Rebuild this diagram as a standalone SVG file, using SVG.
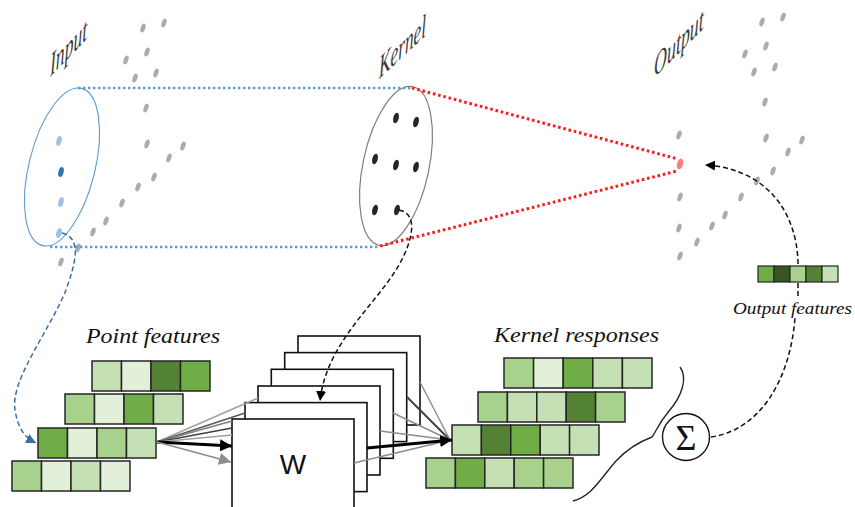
<svg xmlns="http://www.w3.org/2000/svg" xmlns:xlink="http://www.w3.org/1999/xlink" width="855" height="507" viewBox="0 0 855 507">
<style>
.lbl{font-family:"Liberation Serif",serif;font-style:italic;fill:#3a3a3a}
.cap{font-family:"Liberation Serif",serif;font-style:italic;fill:#111}
.cell{stroke:#262626;stroke-width:1.5}
.c1{fill:#e2f0d9}.c2{fill:#c5e0b4}.c3{fill:#a9d18e}.c4{fill:#70ad47}.c5{fill:#548235}.c6{fill:#375623}
.gd{fill:#acacac}
.box{fill:#fff;stroke:#111;stroke-width:1.6}
.bdot{stroke:#5b9bd5;stroke-width:2.5;stroke-dasharray:2.4 2.6;fill:none}
.rdot{stroke:#ff1a1a;stroke-width:3;stroke-dasharray:2.6 2.8;fill:none}
.dash{stroke:#111;stroke-width:1.5;stroke-dasharray:5 3;fill:none}
</style>
<defs>
<ellipse id="gd" class="gd" rx="2.3" ry="4.6" transform="rotate(20)"/>
<g id="cloud">
<use href="#gd" x="143" y="28"/><use href="#gd" x="164" y="23"/><use href="#gd" x="126" y="60"/><use href="#gd" x="147" y="52"/>
<use href="#gd" x="135" y="78"/><use href="#gd" x="156" y="73"/><use href="#gd" x="146" y="108"/><use href="#gd" x="147" y="144"/>
<use href="#gd" x="183" y="146"/><use href="#gd" x="169" y="158"/><use href="#gd" x="154" y="177"/><use href="#gd" x="138" y="187"/>
<use href="#gd" x="122" y="203"/><use href="#gd" x="106" y="221"/><use href="#gd" x="93" y="232"/><use href="#gd" x="78" y="248"/>
<use href="#gd" x="61" y="262"/>
</g>
<marker id="ab" markerUnits="userSpaceOnUse" markerWidth="14" markerHeight="12" refX="12" refY="6" orient="auto"><path d="M0,0 L12,6 L0,12 Z" fill="#000"/></marker>
<marker id="ag" markerUnits="userSpaceOnUse" markerWidth="14" markerHeight="12" refX="12" refY="6" orient="auto"><path d="M0,0 L12,6 L0,12 Z" fill="#8c8c8c"/></marker>
<marker id="ad" markerUnits="userSpaceOnUse" markerWidth="12" markerHeight="10" refX="10" refY="5" orient="auto"><path d="M0,0 L10,5 L0,10 Z" fill="#000"/></marker>
<marker id="abl" markerUnits="userSpaceOnUse" markerWidth="12" markerHeight="10" refX="10" refY="5" orient="auto"><path d="M0,0 L10,5 L0,10 Z" fill="#3b6ea5"/></marker>
</defs>

<g id="input-layer">
<use href="#cloud"/>
<ellipse cx="62" cy="167" rx="33" ry="81" transform="rotate(14 62 167)" fill="none" stroke="#5b9bd5" stroke-width="1.1"/>
<ellipse cx="59" cy="141" rx="2.6" ry="5" transform="rotate(15 59 141)" fill="#9dc3e6"/>
<ellipse cx="61" cy="172" rx="2.6" ry="5" transform="rotate(15 61 172)" fill="#2e75b6"/>
<ellipse cx="61" cy="202" rx="2.6" ry="5" transform="rotate(15 61 202)" fill="#9dc3e6"/>
<ellipse cx="59" cy="233" rx="2.8" ry="5.2" transform="rotate(15 59 233)" fill="#9dc3e6"/>
<text class="lbl" font-size="32" transform="translate(50 77) skewY(-46) scale(0.55 1)">Input</text>
</g>

<g id="kernel">
<ellipse cx="396" cy="166" rx="33" ry="81" transform="rotate(12 396 166)" fill="none" stroke="#7f7f7f" stroke-width="1.2"/>
<g fill="#262626">
<ellipse cx="396" cy="118" rx="2.7" ry="5.4" transform="rotate(15 396 118)"/>
<ellipse cx="416" cy="122" rx="2.7" ry="5.4" transform="rotate(15 416 122)"/>
<ellipse cx="375" cy="159" rx="2.7" ry="5.4" transform="rotate(15 375 159)"/>
<ellipse cx="396" cy="165" rx="2.7" ry="5.4" transform="rotate(15 396 165)"/>
<ellipse cx="416" cy="167" rx="2.7" ry="5.4" transform="rotate(15 416 167)"/>
<ellipse cx="375" cy="210" rx="2.7" ry="5.4" transform="rotate(15 375 210)"/>
<ellipse cx="397" cy="210" rx="2.7" ry="5.4" transform="rotate(15 397 210)"/>
</g>
<text class="lbl" font-size="32" transform="translate(379 79) skewY(-43) scale(0.54 1)">Kernel</text>
</g>

<g id="output-layer">
<use href="#cloud" transform="translate(619 -6)"/>
<use href="#gd" x="679" y="135"/><use href="#gd" x="680" y="197"/><use href="#gd" x="679" y="228"/>
<ellipse cx="680" cy="164" rx="3" ry="5.5" transform="rotate(15 680 164)" fill="#ff7c80"/>
<text class="lbl" font-size="32" transform="translate(654 78) skewY(-45) scale(0.56 1)">Output</text>
</g>

<g id="point-features">
<text class="cap" font-size="22" x="86" y="343" textLength="134" lengthAdjust="spacingAndGlyphs">Point features</text>
<g class="cell">
<rect class="c2" x="92" y="361" width="29.5" height="30"/><rect class="c1" x="121.5" y="361" width="29.5" height="30"/><rect class="c5" x="151" y="361" width="29.5" height="30"/><rect class="c4" x="180.5" y="361" width="29.5" height="30"/>
<rect class="c3" x="65" y="394" width="29.5" height="30"/><rect class="c1" x="94.5" y="394" width="29.5" height="30"/><rect class="c4" x="124" y="394" width="29.5" height="30"/><rect class="c2" x="153.5" y="394" width="29.5" height="30"/>
<rect class="c4" x="38" y="428" width="29.5" height="30"/><rect class="c1" x="67.5" y="428" width="29.5" height="30"/><rect class="c3" x="97" y="428" width="29.5" height="30"/><rect class="c2" x="126.5" y="428" width="29.5" height="30"/>
<rect class="c3" x="12" y="461" width="29.5" height="30"/><rect class="c1" x="41.5" y="461" width="29.5" height="30"/><rect class="c2" x="71" y="461" width="29.5" height="30"/><rect class="c1" x="100.5" y="461" width="29.5" height="30"/>
</g>
</g>

<g id="w-stack">
<rect class="box" x="298" y="336" width="122" height="89"/>
<rect class="box" x="284.7" y="352.6" width="122" height="89"/>
<rect class="box" x="271.3" y="369.3" width="122" height="89"/>
<rect class="box" x="258" y="386" width="122" height="89"/>
<rect class="box" x="245" y="402.6" width="122" height="89"/>
<rect class="box" x="232" y="419" width="122" height="95"/>
<text x="293" y="474" font-family="Liberation Sans, Arial, sans-serif" font-size="28" text-anchor="middle" fill="#111">W</text>
</g>

<g id="kernel-responses">
<text class="cap" font-size="22" x="494" y="342" textLength="165" lengthAdjust="spacingAndGlyphs">Kernel responses</text>
<g class="cell">
<rect class="c3" x="504" y="358" width="29.6" height="30"/><rect class="c1" x="533.6" y="358" width="29.6" height="30"/><rect class="c4" x="563.2" y="358" width="29.6" height="30"/><rect class="c2" x="592.8" y="358" width="29.6" height="30"/><rect class="c2" x="622.4" y="358" width="29.6" height="30"/>
<rect class="c3" x="478" y="392" width="29.4" height="30"/><rect class="c2" x="507.4" y="392" width="29.4" height="30"/><rect class="c2" x="536.8" y="392" width="29.4" height="30"/><rect class="c5" x="566.2" y="392" width="29.4" height="30"/><rect class="c3" x="595.6" y="392" width="29.4" height="30"/>
<rect class="c2" x="452" y="425" width="29.4" height="30"/><rect class="c5" x="481.4" y="425" width="29.4" height="30"/><rect class="c4" x="510.8" y="425" width="29.4" height="30"/><rect class="c2" x="540.2" y="425" width="29.4" height="30"/><rect class="c2" x="569.6" y="425" width="29.4" height="30"/>
<rect class="c3" x="426" y="458" width="29.4" height="30"/><rect class="c4" x="455.4" y="458" width="29.4" height="30"/><rect class="c2" x="484.8" y="458" width="29.4" height="30"/><rect class="c3" x="514.2" y="458" width="29.4" height="30"/><rect class="c3" x="543.6" y="458" width="29.4" height="30"/>
</g>
<path d="M680,367 C688,378 682,396 669,411 C658,424 656,432 652,437 C644,440 630,446 616,461 C601,478 592,496 573,501" fill="none" stroke="#262626" stroke-width="1.4"/>
</g>

<g id="sum">
<circle cx="686" cy="437" r="23.5" fill="#fff" stroke="#111" stroke-width="1.4"/>
<text x="686" y="450" font-family="Liberation Serif, serif" font-size="36" text-anchor="middle" fill="#111">Σ</text>
</g>

<g id="connectors">
<line class="bdot" x1="78" y1="88" x2="412" y2="88"/>
<line class="bdot" x1="50" y1="247" x2="380" y2="247"/>
<line class="rdot" x1="412" y1="88" x2="678" y2="159"/>
<line class="rdot" x1="380" y1="246" x2="677" y2="171"/>
<path d="M62,233 C82,238 76,262 66,290 C50,330 10,380 15,410 C18,428 24,437 36,443" fill="none" stroke="#3b6ea5" stroke-width="1.5" stroke-dasharray="5 3" marker-end="url(#abl)"/>
<path class="dash" d="M399,210 C420,214 412,244 396,270 C372,308 326,345 320,401" marker-end="url(#ad)"/>
<line x1="157" y1="442" x2="258" y2="398" stroke="#a0a0a0" stroke-width="1.4"/>
<line x1="157" y1="442" x2="245" y2="413" stroke="#595959" stroke-width="1.6"/>
<line x1="157" y1="442" x2="232" y2="421" stroke="#7f7f7f" stroke-width="1.4"/>
<line x1="157" y1="442" x2="232" y2="428" stroke="#404040" stroke-width="1.6"/>
<line x1="157" y1="442" x2="232" y2="435" stroke="#a0a0a0" stroke-width="1.4"/>
<line x1="157" y1="442" x2="232" y2="446" stroke="#000" stroke-width="3" marker-end="url(#ab)"/>
<line x1="157" y1="442" x2="231" y2="462" stroke="#8c8c8c" stroke-width="1.6" marker-end="url(#ag)"/>
<line x1="354" y1="463" x2="450" y2="440" stroke="#8c8c8c" stroke-width="1.4"/>
<line x1="380" y1="431" x2="450" y2="440" stroke="#8c8c8c" stroke-width="1.4"/>
<line x1="393" y1="413" x2="450" y2="440" stroke="#8c8c8c" stroke-width="1.4"/>
<line x1="407" y1="397" x2="450" y2="440" stroke="#404040" stroke-width="2"/>
<line x1="420" y1="382" x2="450" y2="440" stroke="#8c8c8c" stroke-width="1.4"/>
<line x1="367" y1="448" x2="452" y2="440" stroke="#000" stroke-width="3.2" marker-end="url(#ab)"/>
<path class="dash" d="M711,437 C760,430 790,380 795,318"/>
<path class="dash" d="M798,296 L798,262 C796,205 760,168 705,165" marker-end="url(#ad)"/>
</g>

<g id="output-features">
<g class="cell" style="stroke-width:1.2">
<rect class="c4" x="758" y="266" width="16" height="16"/><rect class="c6" x="774" y="266" width="16" height="16"/><rect class="c3" x="790" y="266" width="16" height="16"/><rect class="c5" x="806" y="266" width="16" height="16"/><rect class="c2" x="822" y="266" width="16" height="16"/>
</g>
<text class="cap" font-size="17" x="733" y="314" textLength="119" lengthAdjust="spacingAndGlyphs">Output features</text>
</g>
</svg>
